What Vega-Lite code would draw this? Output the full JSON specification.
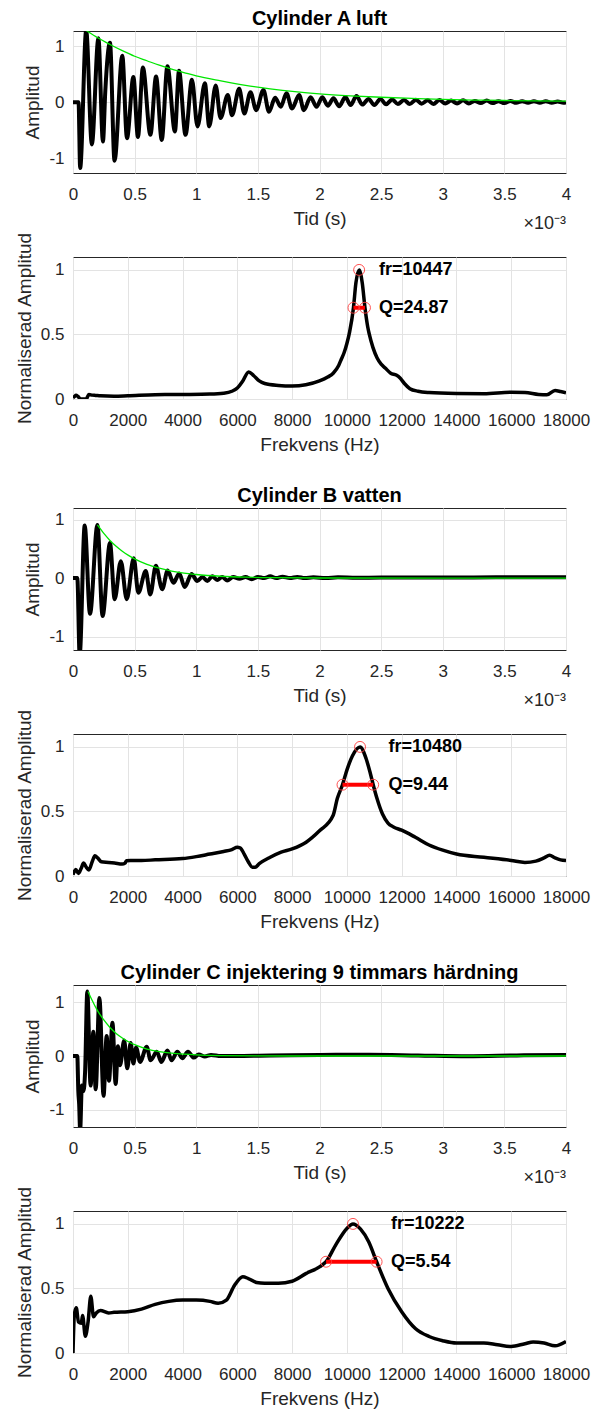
{
"$schema": "https://vega.github.io/schema/vega-lite/v6.json",
"background": "white",
"padding": {"left": 14, "top": 8, "right": 0, "bottom": 0},
"config": {
  "font": "Liberation Sans",
  "view": {"stroke": "#262626", "strokeWidth": 1},
  "axis": {"grid": true, "gridColor": "#e3e3e3", "gridWidth": 1, "domain": false, "ticks": false, "labelFlush": false, "labelOverlap": false, "labelFontSize": 17, "labelColor": "#262626", "labelFont": "Liberation Sans", "titleFontSize": 19, "titleFontWeight": "normal", "titleColor": "#262626", "titleFont": "Liberation Sans"},
  "axisX": {"labelPadding": 13, "titlePadding": 7},
  "axisY": {"labelPadding": 9, "titlePadding": 6},
  "title": {"fontSize": 20, "fontWeight": "bold", "color": "#000000", "offset": 2, "font": "Liberation Sans"}
},
"datasets": {
  "tA": [{"t":0,"a":0},{"t":0.045,"a":0},{"t":0.058,"a":-1.17},{"t":0.107,"a":1.28},{"t":0.153,"a":-0.75},{"t":0.206,"a":1.14},{"t":0.243,"a":-0.7},{"t":0.262,"a":0.2},{"t":0.3,"a":1.06},{"t":0.337,"a":-1.04},{"t":0.4,"a":0.83},{"t":0.438,"a":-0.64},{"t":0.49,"a":0.45},{"t":0.527,"a":-0.62},{"t":0.567,"a":0.62},{"t":0.628,"a":-0.58},{"t":0.674,"a":0.46},{"t":0.72,"a":-0.67},{"t":0.766,"a":0.64},{"t":0.827,"a":-0.52},{"t":0.86,"a":0.56},{"t":0.913,"a":-0.58},{"t":0.965,"a":0.4},{"t":1.01,"a":-0.43},{"t":1.07,"a":0.34},{"t":1.105,"a":-0.43},{"t":1.158,"a":0.3},{"t":1.197,"a":-0.28},{"t":1.256,"a":0.13},{"t":1.29,"a":-0.23},{"t":1.348,"a":0.24},{"t":1.39,"a":-0.2},{"t":1.44,"a":0.18},{"t":1.486,"a":-0.14},{"t":1.545,"a":0.22},{"t":1.59,"a":-0.17},{"t":1.64,"a":0.08},{"t":1.686,"a":-0.08},{"t":1.732,"a":0.16},{"t":1.777,"a":-0.11},{"t":1.835,"a":0.13},{"t":1.873,"a":-0.14},{"t":1.928,"a":0.09},{"t":1.976,"a":-0.08},{"t":2.022,"a":0.09},{"t":2.068,"a":-0.06},{"t":2.113,"a":0.07},{"t":2.16,"a":-0.07},{"t":2.21,"a":0.095},{"t":2.252,"a":-0.05},{"t":2.3,"a":0.11},{"t":2.348,"a":-0.04},{"t":2.398,"a":0.06},{"t":2.445,"a":-0.05},{"t":2.494,"a":0.06},{"t":2.54,"a":-0.035},{"t":2.59,"a":0.05},{"t":2.636,"a":-0.03},{"t":2.686,"a":0.04},{"t":2.732,"a":-0.03},{"t":2.782,"a":0.045},{"t":2.828,"a":-0.025},{"t":2.878,"a":0.035},{"t":2.924,"a":-0.03},{"t":2.973,"a":0.04},{"t":3.02,"a":-0.02},{"t":3.068,"a":0.03},{"t":3.116,"a":-0.02},{"t":3.165,"a":0.035},{"t":3.212,"a":-0.02},{"t":3.26,"a":0.025},{"t":3.308,"a":-0.015},{"t":3.357,"a":0.03},{"t":3.404,"a":-0.015},{"t":3.452,"a":0.02},{"t":3.5,"a":-0.015},{"t":3.548,"a":0.025},{"t":3.596,"a":-0.01},{"t":3.644,"a":0.02},{"t":3.692,"a":-0.01},{"t":3.74,"a":0.02},{"t":3.788,"a":-0.01},{"t":3.836,"a":0.02},{"t":3.884,"a":-0.01},{"t":3.932,"a":0.015},{"t":3.98,"a":-0.01},{"t":4,"a":0}],
  "gA": [{"t":0.107,"a":1.28},{"t":0.2,"a":1.15},{"t":0.3,"a":1.03},{"t":0.4,"a":0.92},{"t":0.5,"a":0.82},{"t":0.6,"a":0.74},{"t":0.7,"a":0.66},{"t":0.8,"a":0.59},{"t":0.9,"a":0.53},{"t":1.0,"a":0.47},{"t":1.2,"a":0.38},{"t":1.4,"a":0.3},{"t":1.6,"a":0.24},{"t":1.8,"a":0.19},{"t":2.0,"a":0.15},{"t":2.25,"a":0.115},{"t":2.5,"a":0.09},{"t":2.75,"a":0.07},{"t":3.0,"a":0.053},{"t":3.25,"a":0.04},{"t":3.5,"a":0.032},{"t":3.75,"a":0.025},{"t":4.0,"a":0.02}],
  "tB": [{"t":0,"a":0},{"t":0.035,"a":0},{"t":0.054,"a":-1.32},{"t":0.095,"a":0.9},{"t":0.138,"a":-0.61},{"t":0.198,"a":0.91},{"t":0.24,"a":-0.65},{"t":0.3,"a":0.6},{"t":0.338,"a":-0.36},{"t":0.388,"a":0.29},{"t":0.436,"a":-0.36},{"t":0.493,"a":0.34},{"t":0.53,"a":-0.25},{"t":0.59,"a":0.12},{"t":0.627,"a":-0.28},{"t":0.672,"a":0.21},{"t":0.724,"a":-0.19},{"t":0.768,"a":0.13},{"t":0.815,"a":-0.08},{"t":0.862,"a":0.08},{"t":0.906,"a":-0.15},{"t":0.962,"a":0.07},{"t":1.008,"a":-0.05},{"t":1.05,"a":0.02},{"t":1.09,"a":-0.05},{"t":1.13,"a":0.03},{"t":1.17,"a":-0.03},{"t":1.21,"a":0.02},{"t":1.25,"a":-0.04},{"t":1.3,"a":0.02},{"t":1.35,"a":-0.01},{"t":1.4,"a":0.02},{"t":1.45,"a":-0.02},{"t":1.5,"a":0.02},{"t":1.55,"a":0},{"t":1.6,"a":0.03},{"t":1.65,"a":0},{"t":1.7,"a":0.025},{"t":1.76,"a":0},{"t":1.82,"a":0.02},{"t":1.88,"a":0},{"t":1.95,"a":0.015},{"t":2.05,"a":0},{"t":2.15,"a":0.015},{"t":2.3,"a":0.005},{"t":2.5,"a":0.01},{"t":3.0,"a":0.01},{"t":3.5,"a":0.015},{"t":4.0,"a":0.015}],
  "gB": [{"t":0.198,"a":0.91},{"t":0.25,"a":0.765},{"t":0.3,"a":0.645},{"t":0.35,"a":0.545},{"t":0.4,"a":0.46},{"t":0.45,"a":0.39},{"t":0.5,"a":0.33},{"t":0.6,"a":0.235},{"t":0.7,"a":0.17},{"t":0.8,"a":0.12},{"t":0.9,"a":0.085},{"t":1.0,"a":0.062},{"t":1.2,"a":0.032},{"t":1.4,"a":0.016},{"t":1.6,"a":0.008},{"t":2.0,"a":0.002},{"t":4.0,"a":0}],
  "tC": [{"t":0,"a":0},{"t":0.035,"a":0},{"t":0.043,"a":-0.65},{"t":0.05,"a":-0.9},{"t":0.058,"a":-1.38},{"t":0.072,"a":-0.55},{"t":0.085,"a":-0.65},{"t":0.098,"a":-0.3},{"t":0.116,"a":1.2},{"t":0.143,"a":-0.55},{"t":0.165,"a":0.45},{"t":0.184,"a":-0.62},{"t":0.214,"a":1.08},{"t":0.248,"a":-0.74},{"t":0.273,"a":0.37},{"t":0.292,"a":-0.46},{"t":0.32,"a":0.62},{"t":0.346,"a":-0.52},{"t":0.365,"a":0.18},{"t":0.382,"a":-0.17},{"t":0.415,"a":0.29},{"t":0.44,"a":-0.23},{"t":0.468,"a":0.24},{"t":0.49,"a":-0.14},{"t":0.512,"a":0.16},{"t":0.544,"a":-0.11},{"t":0.598,"a":0.17},{"t":0.63,"a":-0.08},{"t":0.68,"a":0.08},{"t":0.717,"a":-0.11},{"t":0.766,"a":0.1},{"t":0.8,"a":-0.08},{"t":0.847,"a":0.08},{"t":0.887,"a":-0.04},{"t":0.933,"a":0.08},{"t":0.98,"a":-0.03},{"t":1.02,"a":0.03},{"t":1.07,"a":-0.01},{"t":1.12,"a":0.02},{"t":1.2,"a":0},{"t":1.6,"a":0.01},{"t":2.0,"a":0.02},{"t":2.4,"a":0.025},{"t":2.8,"a":0.01},{"t":3.2,"a":-0.005},{"t":3.6,"a":0.01},{"t":4.0,"a":0.02}],
  "gC": [{"t":0.122,"a":1.2},{"t":0.15,"a":1.06},{"t":0.2,"a":0.84},{"t":0.25,"a":0.67},{"t":0.3,"a":0.53},{"t":0.35,"a":0.42},{"t":0.4,"a":0.335},{"t":0.45,"a":0.265},{"t":0.5,"a":0.21},{"t":0.6,"a":0.13},{"t":0.7,"a":0.083},{"t":0.8,"a":0.053},{"t":0.9,"a":0.034},{"t":1.0,"a":0.021},{"t":1.2,"a":0.008},{"t":1.5,"a":0.002},{"t":2.0,"a":0},{"t":4.0,"a":0}],
  "fA": [{"f":0,"a":0.01},{"f":60,"a":0.02},{"f":110,"a":0.03},{"f":180,"a":0.02},{"f":277,"a":0},{"f":485,"a":0},{"f":580,"a":0.035},{"f":700,"a":0.03},{"f":828,"a":0.028},{"f":1000,"a":0.025},{"f":1500,"a":0.022},{"f":2000,"a":0.025},{"f":3000,"a":0.033},{"f":4000,"a":0.035},{"f":5000,"a":0.038},{"f":5500,"a":0.045},{"f":5800,"a":0.06},{"f":6000,"a":0.085},{"f":6200,"a":0.14},{"f":6414,"a":0.21},{"f":6600,"a":0.18},{"f":6800,"a":0.14},{"f":7000,"a":0.12},{"f":7500,"a":0.105},{"f":8000,"a":0.1},{"f":8500,"a":0.11},{"f":9000,"a":0.14},{"f":9300,"a":0.17},{"f":9500,"a":0.2},{"f":9700,"a":0.26},{"f":9800,"a":0.31},{"f":9900,"a":0.36},{"f":10000,"a":0.43},{"f":10100,"a":0.52},{"f":10240,"a":0.707},{"f":10330,"a":0.9},{"f":10447,"a":1.0},{"f":10560,"a":0.9},{"f":10660,"a":0.707},{"f":10760,"a":0.56},{"f":10820,"a":0.5},{"f":10950,"a":0.4},{"f":11100,"a":0.32},{"f":11250,"a":0.27},{"f":11400,"a":0.24},{"f":11600,"a":0.2},{"f":11800,"a":0.185},{"f":11950,"a":0.16},{"f":12100,"a":0.12},{"f":12300,"a":0.08},{"f":12600,"a":0.06},{"f":13000,"a":0.05},{"f":14000,"a":0.042},{"f":15000,"a":0.04},{"f":16000,"a":0.052},{"f":16500,"a":0.05},{"f":17000,"a":0.035},{"f":17300,"a":0.032},{"f":17600,"a":0.065},{"f":17800,"a":0.058},{"f":18000,"a":0.048}],
  "fB": [{"f":0,"a":0.01},{"f":100,"a":0.05},{"f":200,"a":0.02},{"f":300,"a":0.06},{"f":387,"a":0.1},{"f":480,"a":0.07},{"f":580,"a":0.046},{"f":700,"a":0.11},{"f":800,"a":0.156},{"f":900,"a":0.14},{"f":1035,"a":0.11},{"f":1300,"a":0.105},{"f":1517,"a":0.1},{"f":1795,"a":0.092},{"f":1900,"a":0.1},{"f":1950,"a":0.118},{"f":2100,"a":0.12},{"f":2500,"a":0.12},{"f":3000,"a":0.125},{"f":4000,"a":0.135},{"f":4500,"a":0.15},{"f":5000,"a":0.17},{"f":5500,"a":0.19},{"f":5800,"a":0.205},{"f":6000,"a":0.222},{"f":6100,"a":0.218},{"f":6250,"a":0.17},{"f":6400,"a":0.11},{"f":6550,"a":0.068},{"f":6650,"a":0.068},{"f":6800,"a":0.095},{"f":7200,"a":0.145},{"f":7600,"a":0.185},{"f":8000,"a":0.21},{"f":8500,"a":0.26},{"f":9000,"a":0.35},{"f":9500,"a":0.47},{"f":9650,"a":0.6},{"f":9840,"a":0.707},{"f":10000,"a":0.82},{"f":10200,"a":0.93},{"f":10480,"a":1.0},{"f":10700,"a":0.91},{"f":10850,"a":0.8},{"f":10960,"a":0.707},{"f":11100,"a":0.6},{"f":11300,"a":0.48},{"f":11500,"a":0.41},{"f":11700,"a":0.38},{"f":12000,"a":0.355},{"f":12500,"a":0.3},{"f":13000,"a":0.24},{"f":13500,"a":0.2},{"f":14000,"a":0.17},{"f":15000,"a":0.145},{"f":16000,"a":0.12},{"f":16500,"a":0.105},{"f":16900,"a":0.115},{"f":17200,"a":0.14},{"f":17400,"a":0.16},{"f":17600,"a":0.14},{"f":17800,"a":0.125},{"f":18000,"a":0.12}],
  "fC": [{"f":0,"a":0},{"f":50,"a":0.3},{"f":120,"a":0.35},{"f":200,"a":0.24},{"f":300,"a":0.23},{"f":350,"a":0.29},{"f":450,"a":0.13},{"f":550,"a":0.24},{"f":650,"a":0.44},{"f":750,"a":0.28},{"f":850,"a":0.31},{"f":1000,"a":0.33},{"f":1300,"a":0.31},{"f":1500,"a":0.315},{"f":2000,"a":0.32},{"f":2500,"a":0.34},{"f":3000,"a":0.377},{"f":3500,"a":0.4},{"f":4000,"a":0.41},{"f":4500,"a":0.41},{"f":5000,"a":0.4},{"f":5300,"a":0.385},{"f":5600,"a":0.41},{"f":5900,"a":0.525},{"f":6200,"a":0.59},{"f":6400,"a":0.577},{"f":6700,"a":0.546},{"f":7000,"a":0.54},{"f":7500,"a":0.54},{"f":8000,"a":0.556},{"f":8500,"a":0.615},{"f":9000,"a":0.667},{"f":9240,"a":0.707},{"f":9600,"a":0.84},{"f":10000,"a":0.965},{"f":10222,"a":1.0},{"f":10500,"a":0.96},{"f":10800,"a":0.86},{"f":11085,"a":0.707},{"f":11500,"a":0.5},{"f":12000,"a":0.32},{"f":12500,"a":0.19},{"f":13000,"a":0.128},{"f":13500,"a":0.095},{"f":14000,"a":0.077},{"f":15000,"a":0.077},{"f":15500,"a":0.064},{"f":16000,"a":0.051},{"f":16500,"a":0.072},{"f":16800,"a":0.085},{"f":17200,"a":0.077},{"f":17600,"a":0.056},{"f":18000,"a":0.09}],
  "sA": [{"f":10240,"a":0.707},{"f":10660,"a":0.707}],
  "sB": [{"f":9840,"a":0.707},{"f":10960,"a":0.707}],
  "sC": [{"f":9240,"a":0.707},{"f":11085,"a":0.707}],
  "mA": [{"f":10447,"a":1.0},{"f":10240,"a":0.707},{"f":10660,"a":0.707}],
  "mB": [{"f":10480,"a":1.0},{"f":9840,"a":0.707},{"f":10960,"a":0.707}],
  "mC": [{"f":10222,"a":1.0},{"f":9240,"a":0.707},{"f":11085,"a":0.707}],
  "lA": [{"f":11170,"a":1.0,"label":"fr=10447"},{"f":11170,"a":0.707,"label":"Q=24.87"}],
  "lB": [{"f":11517,"a":1.0,"label":"fr=10480"},{"f":11517,"a":0.707,"label":"Q=9.44"}],
  "lC": [{"f":11611,"a":1.0,"label":"fr=10222"},{"f":11611,"a":0.707,"label":"Q=5.54"}]
},
"spacing": 30,
"vconcat": [
 {"bounds": "flush", "spacing": 84, "vconcat": [
  {"width": 493, "height": 142, "title": "Cylinder A luft",
   "encoding": {
     "x": {"field": "t", "type": "quantitative", "scale": {"domain": [0, 4], "nice": false}, "axis": {"values": [0,0.5,1,1.5,2,2.5,3,3.5,4], "labelExpr": "'' + datum.value", "title": "Tid (s)"}},
     "y": {"field": "a", "type": "quantitative", "scale": {"domain": [-1.26, 1.27], "nice": false, "zero": false}, "axis": {"values": [-1,0,1], "labelExpr": "'' + datum.value", "title": "Amplitud"}}
   },
   "layer": [
     {"data": {"name": "tA"}, "mark": {"type": "line", "color": "#000000", "strokeWidth": 4, "interpolate": "monotone", "clip": true}, "encoding": {}},
     {"data": {"name": "gA"}, "mark": {"type": "line", "color": "#00e600", "strokeWidth": 1.3, "interpolate": "monotone", "clip": true}, "encoding": {}},
     {"data": {"values": [{"t": 4, "a": -2.16, "label": "×10⁻³"}]}, "mark": {"type": "text", "align": "right", "baseline": "middle", "fontSize": 18, "color": "#262626"}, "encoding": {"text": {"field": "label"}}}
   ]},
  {"width": 493, "height": 142,
   "encoding": {
     "x": {"field": "f", "type": "quantitative", "scale": {"domain": [0, 18000], "nice": false}, "axis": {"values": [0,2000,4000,6000,8000,10000,12000,14000,16000,18000], "labelExpr": "'' + datum.value", "title": "Frekvens (Hz)"}},
     "y": {"field": "a", "type": "quantitative", "scale": {"domain": [0, 1.1], "nice": false}, "axis": {"values": [0,0.5,1], "labelExpr": "'' + datum.value", "title": "Normaliserad Amplitud"}}
   },
   "layer": [
     {"data": {"name": "fA"}, "mark": {"type": "line", "color": "#000000", "strokeWidth": 3.5, "interpolate": "monotone", "clip": true}, "encoding": {}},
     {"data": {"name": "sA"}, "mark": {"type": "line", "color": "#ff0000", "strokeWidth": 4}, "encoding": {}},
     {"data": {"name": "mA"}, "mark": {"type": "point", "shape": "circle", "filled": false, "color": "#ff4040", "size": 120, "strokeWidth": 1, "opacity": 0.9}},
     {"data": {"name": "lA"}, "mark": {"type": "text", "align": "left", "baseline": "middle", "fontSize": 18, "fontWeight": "bold", "color": "#000000"}, "encoding": {"text": {"field": "label"}}}
   ]}
 ]},
 {"bounds": "flush", "spacing": 84, "vconcat": [
  {"width": 493, "height": 142, "title": "Cylinder B vatten",
   "encoding": {
     "x": {"field": "t", "type": "quantitative", "scale": {"domain": [0, 4], "nice": false}, "axis": {"values": [0,0.5,1,1.5,2,2.5,3,3.5,4], "labelExpr": "'' + datum.value", "title": "Tid (s)"}},
     "y": {"field": "a", "type": "quantitative", "scale": {"domain": [-1.23, 1.2], "nice": false, "zero": false}, "axis": {"values": [-1,0,1], "labelExpr": "'' + datum.value", "title": "Amplitud"}}
   },
   "layer": [
     {"data": {"name": "tB"}, "mark": {"type": "line", "color": "#000000", "strokeWidth": 4, "interpolate": "monotone", "clip": true}, "encoding": {}},
     {"data": {"name": "gB"}, "mark": {"type": "line", "color": "#00e600", "strokeWidth": 1.3, "interpolate": "monotone", "clip": true}, "encoding": {}},
     {"data": {"values": [{"t": 4, "a": -2.10, "label": "×10⁻³"}]}, "mark": {"type": "text", "align": "right", "baseline": "middle", "fontSize": 18, "color": "#262626"}, "encoding": {"text": {"field": "label"}}}
   ]},
  {"width": 493, "height": 142,
   "encoding": {
     "x": {"field": "f", "type": "quantitative", "scale": {"domain": [0, 18000], "nice": false}, "axis": {"values": [0,2000,4000,6000,8000,10000,12000,14000,16000,18000], "labelExpr": "'' + datum.value", "title": "Frekvens (Hz)"}},
     "y": {"field": "a", "type": "quantitative", "scale": {"domain": [0, 1.1], "nice": false}, "axis": {"values": [0,0.5,1], "labelExpr": "'' + datum.value", "title": "Normaliserad Amplitud"}}
   },
   "layer": [
     {"data": {"name": "fB"}, "mark": {"type": "line", "color": "#000000", "strokeWidth": 3.5, "interpolate": "monotone", "clip": true}, "encoding": {}},
     {"data": {"name": "sB"}, "mark": {"type": "line", "color": "#ff0000", "strokeWidth": 4}, "encoding": {}},
     {"data": {"name": "mB"}, "mark": {"type": "point", "shape": "circle", "filled": false, "color": "#ff4040", "size": 120, "strokeWidth": 1, "opacity": 0.9}},
     {"data": {"name": "lB"}, "mark": {"type": "text", "align": "left", "baseline": "middle", "fontSize": 18, "fontWeight": "bold", "color": "#000000"}, "encoding": {"text": {"field": "label"}}}
   ]}
 ]},
 {"bounds": "flush", "spacing": 84, "vconcat": [
  {"width": 493, "height": 142, "title": "Cylinder C injektering 9 timmars härdning",
   "encoding": {
     "x": {"field": "t", "type": "quantitative", "scale": {"domain": [0, 4], "nice": false}, "axis": {"values": [0,0.5,1,1.5,2,2.5,3,3.5,4], "labelExpr": "'' + datum.value", "title": "Tid (s)"}},
     "y": {"field": "a", "type": "quantitative", "scale": {"domain": [-1.32, 1.32], "nice": false, "zero": false}, "axis": {"values": [-1,0,1], "labelExpr": "'' + datum.value", "title": "Amplitud"}}
   },
   "layer": [
     {"data": {"name": "tC"}, "mark": {"type": "line", "color": "#000000", "strokeWidth": 4, "interpolate": "monotone", "clip": true}, "encoding": {}},
     {"data": {"name": "gC"}, "mark": {"type": "line", "color": "#00e600", "strokeWidth": 1.3, "interpolate": "monotone", "clip": true}, "encoding": {}},
     {"data": {"values": [{"t": 4, "a": -2.26, "label": "×10⁻³"}]}, "mark": {"type": "text", "align": "right", "baseline": "middle", "fontSize": 18, "color": "#262626"}, "encoding": {"text": {"field": "label"}}}
   ]},
  {"width": 493, "height": 142,
   "encoding": {
     "x": {"field": "f", "type": "quantitative", "scale": {"domain": [0, 18000], "nice": false}, "axis": {"values": [0,2000,4000,6000,8000,10000,12000,14000,16000,18000], "labelExpr": "'' + datum.value", "title": "Frekvens (Hz)"}},
     "y": {"field": "a", "type": "quantitative", "scale": {"domain": [0, 1.1], "nice": false}, "axis": {"values": [0,0.5,1], "labelExpr": "'' + datum.value", "title": "Normaliserad Amplitud"}}
   },
   "layer": [
     {"data": {"name": "fC"}, "mark": {"type": "line", "color": "#000000", "strokeWidth": 3.5, "interpolate": "monotone", "clip": true}, "encoding": {}},
     {"data": {"name": "sC"}, "mark": {"type": "line", "color": "#ff0000", "strokeWidth": 4}, "encoding": {}},
     {"data": {"name": "mC"}, "mark": {"type": "point", "shape": "circle", "filled": false, "color": "#ff4040", "size": 120, "strokeWidth": 1, "opacity": 0.9}},
     {"data": {"name": "lC"}, "mark": {"type": "text", "align": "left", "baseline": "middle", "fontSize": 18, "fontWeight": "bold", "color": "#000000"}, "encoding": {"text": {"field": "label"}}}
   ]}
 ]}
]
}
